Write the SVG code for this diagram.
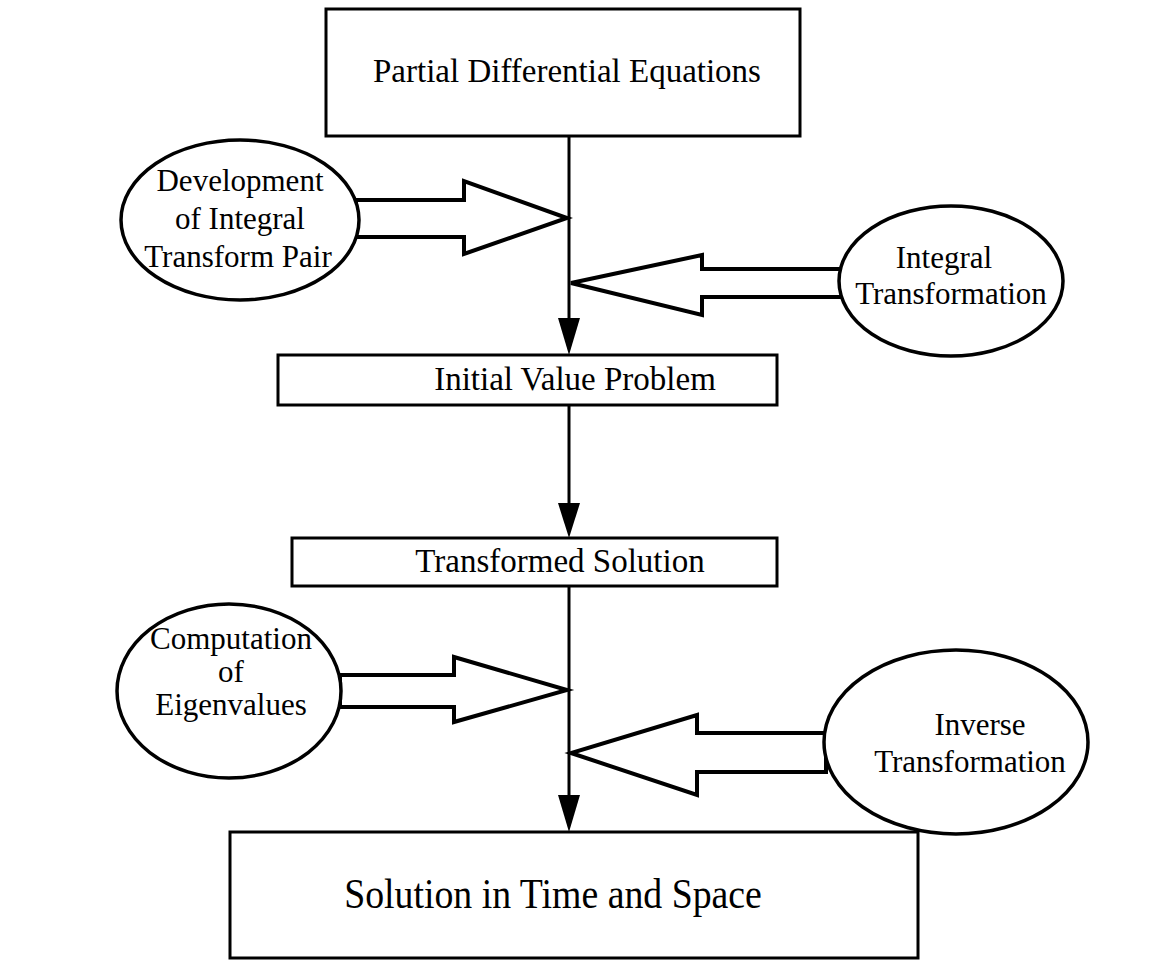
<svg xmlns="http://www.w3.org/2000/svg" width="1167" height="975" viewBox="0 0 1167 975">
<style>
.box{fill:#fff;stroke:#000;stroke-width:3}
.ell{fill:#fff;stroke:#000;stroke-width:3.5}
.hollow{fill:#fff;stroke:#000;stroke-width:4;stroke-linejoin:miter}
.ln{stroke:#000;stroke-width:3;fill:none}
.head{fill:#000}
text{font-family:"Liberation Serif","Times New Roman",serif;font-size:33px;fill:#000;text-anchor:middle}
.et{font-size:31px}
.cond{font-size:42px}
</style>
<rect width="1167" height="975" fill="#fff"/>
<g id="connectors">
<line class="ln" x1="569" y1="136" x2="569" y2="320"/>
<polygon class="head" points="558,318 580,318 569,355"/>
<line class="ln" x1="569" y1="405" x2="569" y2="505"/>
<polygon class="head" points="558,503 580,503 569,538"/>
<line class="ln" x1="569" y1="586" x2="569" y2="797"/>
<polygon class="head" points="558,795 580,795 569,832"/>
<polygon class="hollow" points="356,200 464,200 464,181 567,218 464,254 464,237 356,237"/>
<polygon class="hollow" points="843,269 702,269 702,255 571,283 702,315 702,297 843,297"/>
<polygon class="hollow" points="340,675 454,675 454,657 567,690 454,722 454,707 340,707"/>
<polygon class="hollow" points="826,733 697,733 697,715 571,753 697,795 697,772 826,772"/>
</g>
<g id="pde">
<rect class="box" x="326" y="9" width="474" height="127"/>
<text x="567" y="82">Partial Differential Equations</text>
</g>
<g id="development">
<ellipse class="ell" cx="240" cy="220" rx="119" ry="80"/>
<text class="et" x="240" y="191">Development</text>
<text class="et" x="240" y="229">of Integral</text>
<text class="et" x="238" y="267">Transform Pair</text>
</g>
<g id="integral">
<ellipse class="ell" cx="951" cy="281" rx="112" ry="75"/>
<text class="et" x="944" y="268">Integral</text>
<text class="et" x="951" y="304">Transformation</text>
</g>
<g id="ivp">
<rect class="box" x="278" y="355" width="499" height="50"/>
<text x="575" y="390">Initial Value Problem</text>
</g>
<g id="transformed">
<rect class="box" x="292" y="538" width="485" height="48"/>
<text x="560" y="572">Transformed Solution</text>
</g>
<g id="computation">
<ellipse class="ell" cx="229" cy="691" rx="112" ry="87"/>
<text class="et" x="231" y="649">Computation</text>
<text class="et" x="231" y="682">of</text>
<text class="et" x="231" y="715">Eigenvalues</text>
</g>
<g id="inverse">
<ellipse class="ell" cx="956" cy="742" rx="132" ry="92"/>
<text class="et" x="980" y="735">Inverse</text>
<text class="et" x="970" y="772">Transformation</text>
</g>
<g id="solution">
<rect class="box" x="230" y="832" width="688" height="126"/>
<text class="cond" transform="translate(553,908) scale(0.9,1)">Solution in Time and Space</text>
</g>
</svg>
